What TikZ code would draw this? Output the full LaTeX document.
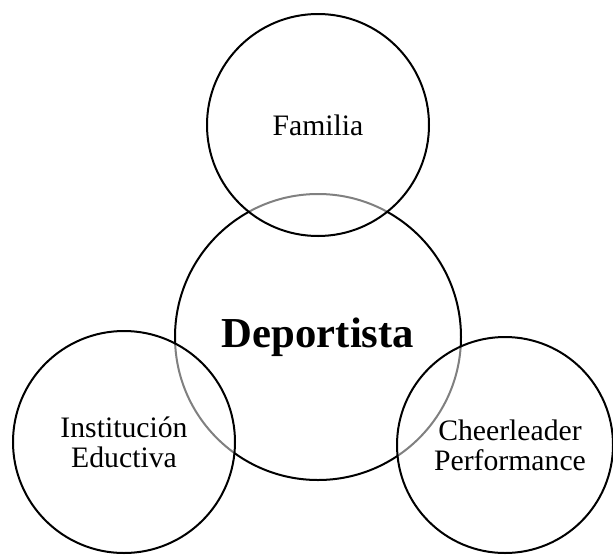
\documentclass[tikz,border=0pt]{standalone}
\usepackage{fontspec}
\setmainfont{Liberation Serif}
\usetikzlibrary{positioning}

\begin{document}
\begin{tikzpicture}[x=1pt,y=-1pt,
  ring/.style={circle,draw=black,line width=2pt,inner sep=0pt,align=center,
    font=\fontsize{29.7}{30}\selectfont},
  satellite/.style={ring,fill=white,fill opacity=.5,text opacity=1}]
\useasboundingbox (0,0) rectangle (613,555);
% central circle first, the others lie over it
\node[ring,minimum size=286pt,font=\fontsize{42.7}{44}\selectfont\bfseries] (deportista) at (318,337) {Deportista};
\node[satellite,minimum size=222pt] (familia) at (318,125) {Familia};
\node[satellite,minimum size=222pt] (institucion) at (124,442) {Institución\\Eductiva};
\node[satellite,minimum size=216pt,text width=200pt,
  label={[font=\fontsize{29.7}{30}\selectfont,align=center]center:\hspace*{10pt}Cheerleader\\\hspace*{10pt}Performance}] (cheer) at (505,445) {};
\end{tikzpicture}
\end{document}
